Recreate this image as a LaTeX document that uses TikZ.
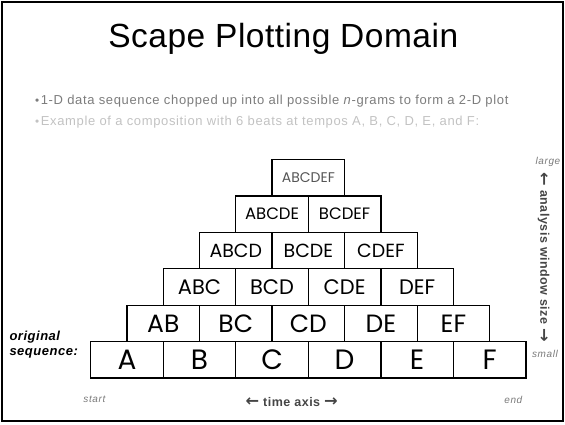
\documentclass[tikz,border=0pt]{standalone}
\usepackage{fontspec}
\setmainfont{Liberation Sans}
% loosely tracked text faces for the captions
\newfontfamily\spaced{Liberation Sans}[LetterSpace=4]
\newfontfamily\bulletfont{Liberation Sans}[LetterSpace=5]
\newfontfamily\notefont{Liberation Sans}[LetterSpace=6]
\newfontfamily\titlefont{Liberation Sans}[LetterSpace=1.5]
\newfontfamily\cellfont{Poppins}
\newfontfamily\arrowfont{DejaVu Sans}
\definecolor{bulletgray}{HTML}{7C7C7C}
\definecolor{palegray}{HTML}{C2C2C2}
\definecolor{axisgray}{HTML}{454545}
\definecolor{notegray}{HTML}{7A7A7A}
\definecolor{topgray}{HTML}{555555}
\newcommand{\arr}[1]{\raisebox{-0.5pt}{\scalebox{1.3}{\arrowfont\bfseries #1}}}
\begin{document}
\begin{tikzpicture}[x=1pt,y=-1pt,
  cell/.style={draw=black, line width=1.2pt, minimum width=72.55pt,
    minimum height=36.4pt, inner sep=0pt, outer sep=0pt},
  bullet/.style={anchor=base west, inner sep=0pt,
    font=\bulletfont\fontsize{13}{13}\selectfont},
  note/.style={anchor=base, inner sep=0pt, text=notegray,
    font=\notefont\itshape\fontsize{10}{10}\selectfont},
  axis/.style={inner sep=0pt, text=axisgray,
    font=\spaced\bfseries\fontsize{12.5}{12.5}\selectfont}]
\useasboundingbox (0,0) rectangle (565,424);
% slide frame
\draw[line width=2.4pt] (2.2,2.2) rectangle (562.8,420.8);

% heading and bullet points
\node[anchor=base, inner sep=0pt, font=\titlefont\fontsize{33.5}{33.5}\selectfont]
  (title) at (283.3,47) {Scape Plotting Domain};
\node[bullet, text=bulletgray] (line1) at (35,104)
  {\scalebox{0.9}{•}\hspace{1.5pt}1-D data sequence chopped up into all possible \textit{n}-grams to form a 2-D plot};
\node[bullet, text=palegray] (line2) at (35,125.7)
  {\scalebox{0.9}{•}\hspace{1.5pt}Example of a composition with 6 beats at tempos A, B, C, D, E, and F:};

% pyramid of n-gram cells, row 1 at the bottom
\foreach \r/\labels/\fs/\col in {
    1/{A,B,C,D,E,F}/28/black,
    2/{AB,BC,CD,DE,EF}/25/black,
    3/{ABC,BCD,CDE,DEF}/21/black,
    4/{ABCD,BCDE,CDEF}/19/black,
    5/{ABCDE,BCDEF}/16.5/black,
    6/{ABCDEF}/14/topgray} {
  \pgfmathsetmacro{\n}{7-\r}
  \pgfmathsetmacro{\yc}{359.7-(\r-1)*36.4}
  \foreach \lab [count=\i] in \labels {
    \pgfmathsetmacro{\xc}{308.35+(\i-(\n+1)/2)*72.55}
    \node[cell, text=\col, font=\cellfont\fontsize{\fs}{\fs}\selectfont]
      (cell-\r-\i) at (\xc,\yc) {\lab};
  }
}

% captions
\node[anchor=base west, inner sep=0pt, font=\spaced\bfseries\itshape\fontsize{13}{15.5}\selectfont,
  align=left] (orig) at (9.3,355.5) {original\\sequence:};
\node[note] (start) at (94.4,402.7) {start};
\node[note] (end) at (513.3,403.3) {end};
\node[axis, anchor=base] (time) at (291.7,406) {\arr{←} time axis \arr{→}};
\node[axis, rotate=-90] (window) at (543.5,257.5) {\arr{←} analysis window size \arr{→}};
\node[note] (large) at (548,164.5) {large};
\node[note] (small) at (545,357) {small};
\end{tikzpicture}
\end{document}
